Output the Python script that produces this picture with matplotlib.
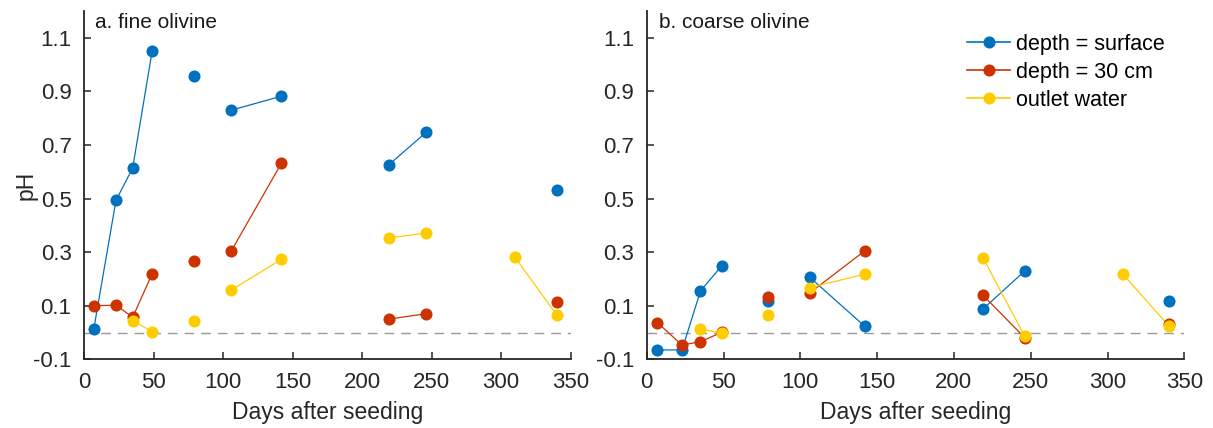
import numpy as np
import matplotlib
matplotlib.use("Agg")
import matplotlib.pyplot as plt
from matplotlib.lines import Line2D

plt.rcParams['font.family'] = ['Liberation Sans', 'DejaVu Sans']
plt.rcParams['axes.unicode_minus'] = False

nan = np.nan
days = [7, 23, 35, 49, nan, 79, nan, 106, 142, nan, 219, 246, nan, 310, 340]

fine_surface = [0.012, 0.493, 0.614, 1.05, nan, 0.956, nan, 0.830, 0.882, nan, 0.625, 0.747, nan, nan, 0.532]
fine_30cm    = [0.100, 0.102, 0.057, 0.219, nan, 0.268, nan, 0.305, 0.632, nan, 0.050, 0.070, nan, nan, 0.115]
fine_outlet  = [nan, nan, 0.044, 0.003, nan, 0.044, nan, 0.159, 0.273, nan, 0.353, 0.371, nan, 0.280, 0.065]

coarse_surface = [-0.065, -0.065, 0.155, 0.250, nan, 0.117, nan, 0.207, 0.023, nan, 0.088, 0.229, nan, nan, 0.116]
coarse_30cm    = [0.037, -0.047, -0.034, 0.001, nan, 0.134, nan, 0.147, 0.305, nan, 0.139, -0.019, nan, nan, 0.032]
coarse_outlet  = [nan, nan, 0.013, -0.003, nan, 0.065, nan, 0.167, 0.218, nan, 0.278, -0.013, nan, 0.218, 0.024]

labels = ['depth = surface', 'depth = 30 cm', 'outlet water']
colors = ['#0072BD', '#CC3300', '#FFCC00']
titles = ['a. fine olivine', 'b. coarse olivine']
yticks = [-0.1, 0.1, 0.3, 0.5, 0.7, 0.9, 1.1]
xticks = [0, 50, 100, 150, 200, 250, 300, 350]

W, H = 1213, 428
fig = plt.figure(figsize=(W / 100, H / 100), dpi=100)
ax1 = fig.add_axes([84 / W, 1 - 359.3 / H, 486.7 / W, (359.3 - 11) / H])
ax2 = fig.add_axes([646.7 / W, 1 - 359.3 / H, 537.6 / W, (359.3 - 11) / H])

panels = [(ax1, [fine_surface, fine_30cm, fine_outlet]),
          (ax2, [coarse_surface, coarse_30cm, coarse_outlet])]

for i, (ax, series) in enumerate(panels):
    ax.plot([0, 350], [0, 0], ls=(0, (7, 5)), color='#999999', lw=1.0, zorder=1)
    for vals, c, lab in zip(series, colors, labels):
        ax.plot(days, vals, '-', color=c, lw=0.9, zorder=2)
        ax.plot(days, vals, 'o', color=c, ms=8.7, mec=c, mew=0, zorder=3)
    ax.set_xlim(0, 350)
    ax.set_ylim(-0.1, 1.2)
    ax.set_xticks(xticks)
    ax.set_yticks(yticks)
    ax.set_yticklabels([f'{t:.1f}' for t in yticks])
    for s in ['top', 'right']:
        ax.spines[s].set_visible(False)
    for s in ['left', 'bottom']:
        ax.spines[s].set_color('#262626')
        ax.spines[s].set_linewidth(1.3)
    ax.tick_params(direction='in', length=5, width=1.1, color='#262626',
                   labelsize=16, labelcolor='#262626')
    ax.tick_params(axis='x', pad=9)
    ax.tick_params(axis='y', pad=9)
    ax.set_xlabel('Days after seeding', fontsize=16.5, color='#262626', labelpad=6)
    ax.text(0.022, 0.995, titles[i], transform=ax.transAxes, fontsize=15,
            color='#1a1a1a', va='top', ha='left')

ax1.set_ylabel('pH', fontsize=16.5, color='#262626', labelpad=-3)

handles = [Line2D([0], [0], color=c, lw=1.2, marker='o', ms=8.7, mew=0) for c in colors]
ax2.legend(handles, labels, loc='upper left', bbox_to_anchor=(0.596, 0.935), frameon=False,
           fontsize=15.5, handlelength=2.0, handletextpad=0.25, labelspacing=0.33,
           borderaxespad=0, borderpad=0)

fig.savefig('out.png', dpi=100)
